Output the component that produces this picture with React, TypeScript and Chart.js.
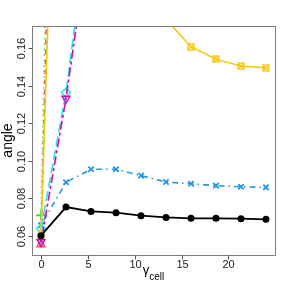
import React, { useEffect, useRef } from "react";
import { Chart, registerables } from "chart.js";

Chart.register(...registerables);

const gammaCell = [0, 2.667, 5.333, 8, 10.667, 13.333, 16, 18.667, 21.333, 24];
const seriesBlack = [0.0602, 0.0754, 0.0731, 0.0724, 0.0708, 0.0699, 0.0694, 0.0694, 0.0692, 0.0689];
const seriesRed = [0.0555, 0.6, 0.7, 0.75, 0.78, 0.8, 0.81, 0.82, 0.82, 0.83];
const seriesGreen = [0.0711, 0.69, 0.8, 0.85, 0.88, 0.9, 0.91, 0.92, 0.92, 0.93];
const seriesBlue = [0.0658, 0.0886, 0.0955, 0.0955, 0.0921, 0.0887, 0.0878, 0.0868, 0.0862, 0.0859];
const seriesCyan = [0.064, 0.1363, 0.238, 0.31, 0.36, 0.39, 0.41, 0.42, 0.43, 0.43];
const seriesMagenta = [0.0568, 0.1331, 0.226, 0.3, 0.35, 0.38, 0.4, 0.41, 0.42, 0.42];
const seriesGold = [0.0605, 0.47, 0.4, 0.31, 0.23, 0.1752, 0.1607, 0.154, 0.1504, 0.1495];

const xTicks = [0, 5, 10, 15, 20];
const yTicks = [0.06, 0.08, 0.1, 0.12, 0.14, 0.16];
const yTickLabels = ["0.06", "0.08", "0.10", "0.12", "0.14", "0.16"];
const xTitle = "γ";
const xTitleSub = "cell";
const yTitle = "angle";

const FONT = "'Liberation Sans', Arial, Helvetica, sans-serif";

function boxedX(color: string): HTMLCanvasElement {
  const c = document.createElement("canvas");
  c.width = 8;
  c.height = 8;
  const g = c.getContext("2d")!;
  g.strokeStyle = color;
  g.lineWidth = 1.3;
  g.strokeRect(1, 1, 6, 6);
  g.beginPath();
  g.moveTo(1, 1);
  g.lineTo(7, 7);
  g.moveTo(7, 1);
  g.lineTo(1, 7);
  g.stroke();
  return c;
}

const axesPlugin = {
  id: "rAxes",
  afterDraw(chart: any) {
    const { ctx, chartArea } = chart;
    const xs = chart.scales.x;
    const ys = chart.scales.y;
    ctx.save();
    // box
    ctx.strokeStyle = "#7f7f7f";
    ctx.lineWidth = 1;
    ctx.strokeRect(
      Math.round(chartArea.left) + 0.5,
      Math.round(chartArea.top) + 0.5,
      Math.round(chartArea.right - chartArea.left),
      Math.round(chartArea.bottom - chartArea.top)
    );
    // x ticks
    ctx.strokeStyle = "#555";
    ctx.fillStyle = "#222";
    ctx.font = `11px ${FONT}`;
    ctx.textAlign = "center";
    ctx.textBaseline = "middle";
    const yb = Math.round(chartArea.bottom) + 0.5;
    for (const t of xTicks) {
      const px = Math.round(xs.getPixelForValue(t)) + 0.5;
      ctx.beginPath();
      ctx.moveTo(px, yb);
      ctx.lineTo(px, yb + 4);
      ctx.stroke();
      ctx.fillText(String(t), px, 264.5);
    }
    // y ticks
    const xl = Math.round(chartArea.left) + 0.5;
    yTicks.forEach((t, i) => {
      const py = Math.round(ys.getPixelForValue(t)) + 0.5;
      ctx.beginPath();
      ctx.moveTo(xl, py);
      ctx.lineTo(xl - 4, py);
      ctx.stroke();
      ctx.save();
      ctx.translate(22, py);
      ctx.rotate(-Math.PI / 2);
      ctx.fillText(yTickLabels[i], 0, 0);
      ctx.restore();
    });
    // titles
    ctx.fillStyle = "#000";
    ctx.font = `14px ${FONT}`;
    ctx.save();
    ctx.translate(8.5, (chartArea.top + chartArea.bottom) / 2);
    ctx.rotate(-Math.PI / 2);
    ctx.textBaseline = "middle";
    ctx.fillText(yTitle, 0, 0);
    ctx.restore();
    ctx.textBaseline = "alphabetic";
    ctx.textAlign = "left";
    ctx.font = `13px ${FONT}`;
    const gw = ctx.measureText(xTitle).width;
    ctx.font = `10px ${FONT}`;
    const sw = ctx.measureText(xTitleSub).width;
    const cx = (chartArea.left + chartArea.right) / 2;
    const startX = cx - (gw + sw) / 2;
    ctx.font = `13px ${FONT}`;
    ctx.fillText(xTitle, startX, 274);
    ctx.font = `10px ${FONT}`;
    ctx.fillText(xTitleSub, startX + gw, 280);
    ctx.restore();
  },
};

function pts(ys: number[]) {
  return gammaCell.map((x, i) => ({ x, y: ys[i] }));
}

export default function App() {
  const ref = useRef<HTMLCanvasElement>(null);
  useEffect(() => {
    if (!ref.current) return;
    const lw = 1.6;
    const chart = new Chart(ref.current, {
      type: "line",
      data: {
        datasets: [
          {
            data: pts(seriesBlack),
            borderColor: "#000000",
            backgroundColor: "#000000",
            borderWidth: 1.8,
            pointStyle: "circle",
            pointRadius: 2.6,
            order: 0,
          },
          {
            data: pts(seriesRed),
            borderColor: "#DF536B",
            backgroundColor: "rgba(0,0,0,0)",
            borderWidth: lw,
            borderDash: [5, 5],
            pointStyle: "triangle",
            pointRadius: 4.5,
            pointBorderWidth: 1.5,
            order: 6,
          },
          {
            data: pts(seriesGreen),
            borderColor: "#61D04F",
            backgroundColor: "rgba(0,0,0,0)",
            borderWidth: lw,
            borderDash: [1.5, 4],
            pointStyle: "cross",
            pointRadius: 5,
            pointBorderWidth: 2,
            order: 5,
          },
          {
            data: pts(seriesBlue),
            borderColor: "#2297E6",
            backgroundColor: "rgba(0,0,0,0)",
            borderWidth: lw,
            borderDash: [1.5, 4, 6, 4],
            pointStyle: "crossRot",
            pointRadius: 3.8,
            pointBorderWidth: 1.8,
            order: 4,
          },
          {
            data: pts(seriesCyan),
            borderColor: "#28E2E5",
            backgroundColor: "rgba(0,0,0,0)",
            borderWidth: lw,
            borderDash: [10, 4],
            pointStyle: "rectRot",
            pointRadius: 4.5,
            pointBorderWidth: 1.5,
            order: 3,
          },
          {
            data: pts(seriesMagenta),
            borderColor: "#CD0BBC",
            backgroundColor: "rgba(0,0,0,0)",
            borderWidth: lw,
            borderDash: [3, 3, 9, 3],
            pointStyle: "triangle",
            pointRotation: 180,
            pointRadius: 4.5,
            pointBorderWidth: 1.5,
            order: 2,
          },
          {
            data: pts(seriesGold),
            borderColor: "#F5C710",
            backgroundColor: "#F5C710",
            borderWidth: lw,
            pointStyle: boxedX("#F5C710") as any,
            order: 1,
          },
        ],
      },
      options: {
        responsive: false,
        animation: false,
        events: [],
        layout: { padding: { left: 32, top: 26, right: 13, bottom: 33 } },
        plugins: { legend: { display: false }, tooltip: { enabled: false } },
        scales: {
          x: { type: "linear", display: false, min: -0.96, max: 24.96 },
          y: { type: "linear", display: false, min: 0.0499, max: 0.1717 },
        },
      },
      plugins: [axesPlugin],
    });
    return () => chart.destroy();
  }, []);
  return (
    <div style={{ position: "absolute", left: 0, top: 0, width: 288, height: 288, background: "#fff" }}>
      <canvas ref={ref} width={288} height={288} style={{ width: 288, height: 288, display: "block" }} />
    </div>
  );
}
